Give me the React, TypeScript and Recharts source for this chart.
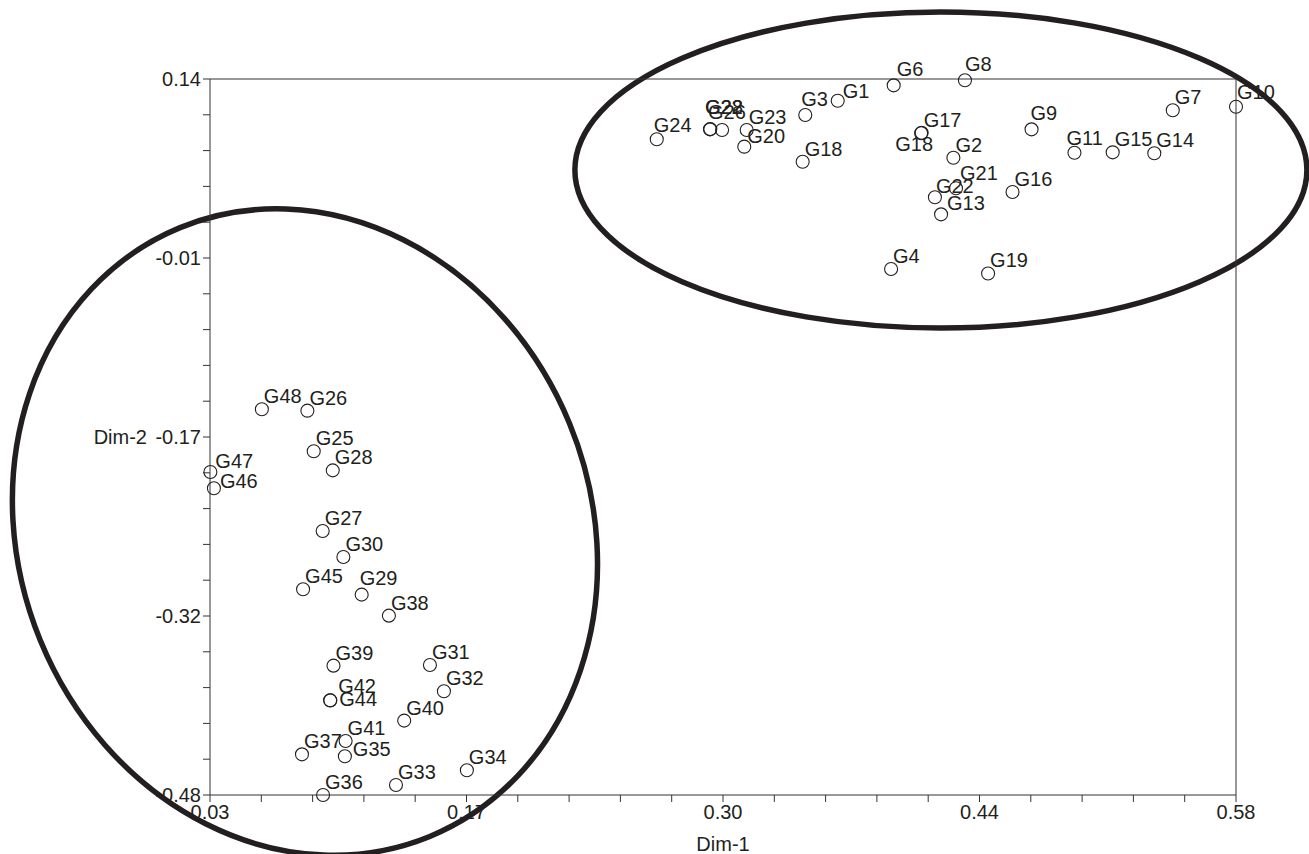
import React from 'react';
import { ScatterChart, Scatter, XAxis, YAxis, ReferenceLine, ReferenceArea } from 'recharts';

// upper cluster (ids ending in "b" are second labels shown with the same text)
const upperIds = ['G1', 'G2', 'G3', 'G4', 'G6', 'G7', 'G8', 'G9', 'G10', 'G11', 'G13', 'G14', 'G15', 'G16', 'G17', 'G18', 'G18b', 'G19', 'G20', 'G21', 'G22', 'G22b', 'G28b', 'G26b', 'G23', 'G24'];
const upperX = [0.3665, 0.4285, 0.3491, 0.3951, 0.3965, 0.5461, 0.4347, 0.4704, 0.58, 0.4934, 0.4219, 0.5362, 0.5139, 0.4602, 0.4115, 0.3477, 0.4112, 0.4471, 0.3164, 0.4299, 0.298, 0.4186, 0.2982, 0.3045, 0.3177, 0.2695];
const upperY = [0.1212, 0.0718, 0.1088, -0.0245, 0.1345, 0.1129, 0.1389, 0.0964, 0.116, 0.0762, 0.0228, 0.0757, 0.0765, 0.0421, 0.0935, 0.0684, 0.093, -0.0284, 0.0814, 0.0454, 0.0964, 0.0376, 0.0966, 0.0958, 0.0958, 0.0878];

// lower cluster
const lowerIds = ['G25', 'G26', 'G27', 'G28', 'G29', 'G30', 'G31', 'G32', 'G33', 'G34', 'G35', 'G36', 'G37', 'G38', 'G39', 'G40', 'G41', 'G42', 'G44', 'G45', 'G46', 'G47', 'G48'];
const lowerX = [0.0856, 0.0822, 0.0904, 0.0958, 0.1113, 0.1015, 0.1479, 0.1554, 0.1297, 0.1677, 0.1023, 0.0906, 0.0793, 0.1259, 0.0962, 0.1341, 0.1027, 0.0944, 0.0945, 0.0799, 0.0321, 0.0302, 0.0578];
const lowerY = [-0.1824, -0.1472, -0.2514, -0.1989, -0.3065, -0.2739, -0.3674, -0.3902, -0.4713, -0.4586, -0.4465, -0.48, -0.4448, -0.3247, -0.368, -0.4156, -0.4332, -0.398, -0.3981, -0.3019, -0.2144, -0.2003, -0.146];

const xMajorTicks = [0.03, 0.1675, 0.305, 0.4425, 0.58];
const xTickLabels = ['0.03', '0.17', '0.30', '0.44', '0.58'];
const yMajorTicks = [-0.48, -0.325, -0.17, -0.015, 0.14];
const yTickLabels = ['-0.48', '-0.32', '-0.17', '-0.01', '0.14'];

// group outlines (bounding box in data units, rotation in degrees)
const outlines = [
  { x1: 0.2256, x2: 0.618, y1: -0.0756, y2: 0.198, angle: 0 },
  { x1: -0.0724, x2: 0.2342, y1: -0.5372, y2: 0.0326, angle: -22.3 },
];

const FONT = '"Liberation Sans", Arial, Helvetica, sans-serif';
const INK = '#231f20';

const labelNudge: Record<string, { dx: number; dy: number; anchor?: 'start' | 'end' }> = {
  G1: { dx: 5, dy: -3 },
  G3: { dx: -4, dy: -9 },
  G6: { dx: 3, dy: -9 },
  G8: { dx: 0, dy: -9 },
  G9: { dx: -1, dy: -9 },
  G10: { dx: 1, dy: -8 },
  G11: { dx: -8, dy: -8 },
  G13: { dx: 6, dy: -4 },
  G20: { dx: 3, dy: -4 },
  G21: { dx: 4, dy: -8 },
  G24: { dx: -3, dy: -7 },
  G22: { dx: -5, dy: -15 },
  G28b: { dx: -5, dy: -15 },
  G26b: { dx: -14, dy: -11 },
  G22b: { dx: 1, dy: -4 },
  G18b: { dx: 12, dy: 18, anchor: 'end' },
  G29: { dx: -2, dy: -10 },
  G35: { dx: 8, dy: 0 },
  G42: { dx: 8, dy: -7 },
  G44: { dx: 9, dy: 6 },
  G46: { dx: 6, dy: 0 },
  G47: { dx: 5, dy: -4 },
};

const toPoints = (ids: string[], xs: number[], ys: number[]) =>
  ids.map((id, i) => ({ id, name: id.replace(/b$/, ''), x: xs[i], y: ys[i] }));

const points = [...toPoints(upperIds, upperX, upperY), ...toPoints(lowerIds, lowerX, lowerY)];

const makeTicks = (majors: number[]) => {
  const out: number[] = [];
  for (let i = 0; i < majors.length - 1; i++) {
    const step = (majors[i + 1] - majors[i]) / 5;
    for (let k = 0; k < 5; k++) out.push(majors[i] + step * k);
  }
  out.push(majors[majors.length - 1]);
  return out;
};
const xTicks = makeTicks(xMajorTicks);
const yTicks = makeTicks(yMajorTicks);

const PointMark = (props: any) => {
  const { cx, cy, payload } = props;
  const n = labelNudge[payload.id] || { dx: 2, dy: -6 };
  return (
    <g>
      <circle cx={cx} cy={cy} r={6.5} fill="none" stroke={INK} strokeWidth={1.1} />
      <text x={cx + n.dx} y={cy + n.dy} textAnchor={n.anchor || 'start'} fontSize={20} fontFamily={FONT} fill={INK}>
        {payload.name}
      </text>
    </g>
  );
};

const Outline = (props: any) => {
  const { x, y, width, height, angle } = props;
  const cx = x + width / 2;
  const cy = y + height / 2;
  return (
    <ellipse
      cx={cx}
      cy={cy}
      rx={Math.abs(width) / 2}
      ry={Math.abs(height) / 2}
      fill="none"
      stroke={INK}
      strokeWidth={5.5}
      transform={`rotate(${angle} ${cx} ${cy})`}
    />
  );
};

const tickStyle = { fill: INK, fontSize: 20, fontFamily: FONT };

export default function App() {
  return (
    <div style={{ position: 'absolute', left: 0, top: 0, background: '#fff' }}>
      <ScatterChart width={1309} height={854} margin={{ top: 79, right: 73, bottom: 3, left: 148 }}>
        <XAxis
          type="number"
          dataKey="x"
          domain={[0.03, 0.58]}
          ticks={xTicks}
          interval={0}
          height={56}
          stroke="#333"
          tickSize={7}
          tickMargin={3}
          tick={tickStyle}
          tickFormatter={(v: number, i: number) => (i % 5 === 0 ? xTickLabels[i / 5] : '')}
          label={{ value: 'Dim-1', position: 'insideBottom', offset: 0, fill: INK, fontSize: 20, fontFamily: FONT }}
        />
        <YAxis
          type="number"
          dataKey="y"
          domain={[-0.48, 0.14]}
          ticks={yTicks}
          interval={0}
          width={62}
          stroke="#333"
          tickSize={7}
          tickMargin={2}
          tick={tickStyle}
          tickFormatter={(v: number, i: number) => (i % 5 === 0 ? yTickLabels[i / 5] : '')}
          label={{ value: 'Dim-2', position: 'left', offset: 1, fill: INK, fontSize: 20, fontFamily: FONT }}
        />
        <ReferenceLine y={0.14} stroke="#333" ifOverflow="visible" />
        <ReferenceLine x={0.58} stroke="#333" ifOverflow="visible" />
        {outlines.map((o, i) => (
          <ReferenceArea
            key={i}
            x1={o.x1}
            x2={o.x2}
            y1={o.y1}
            y2={o.y2}
            ifOverflow="visible"
            shape={(p: any) => <Outline {...p} angle={o.angle} />}
          />
        ))}
        <Scatter data={points} isAnimationActive={false} shape={PointMark} />
      </ScatterChart>
    </div>
  );
}
